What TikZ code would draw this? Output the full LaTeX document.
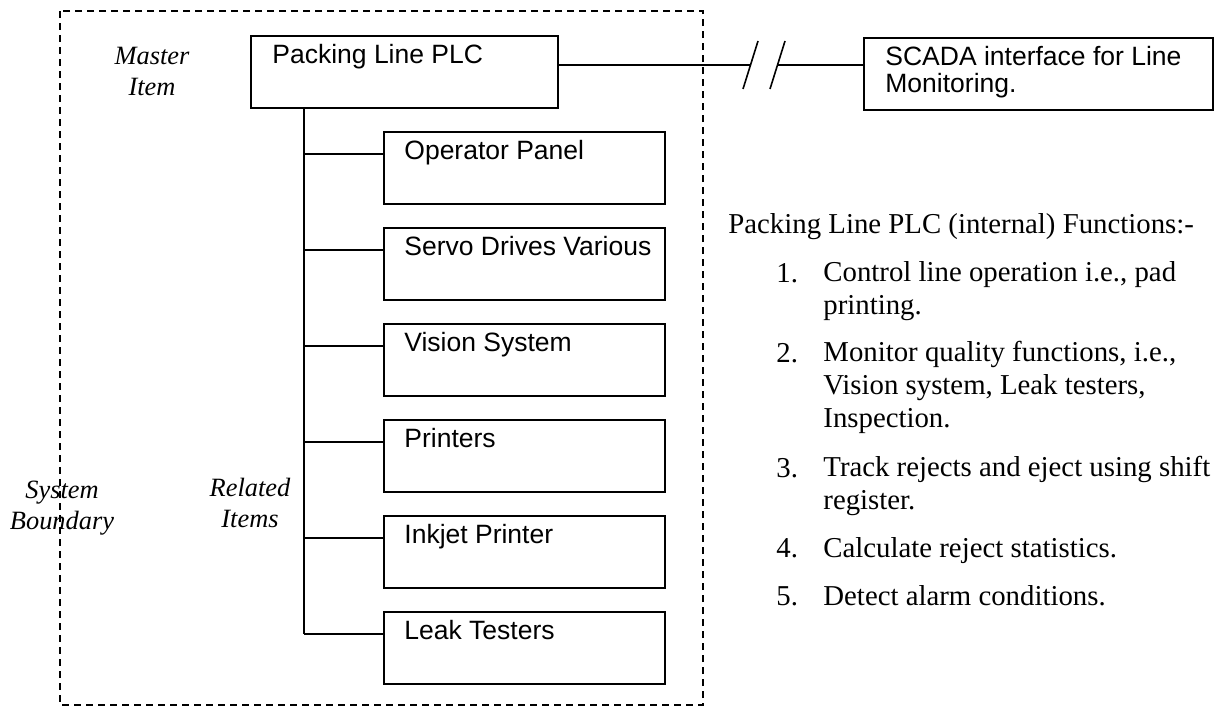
\documentclass[tikz,border=0pt]{standalone}
\usepackage{fontspec}
\setmainfont{Liberation Serif}
\newfontfamily\arialfont{Liberation Sans}
\begin{document}
\begin{tikzpicture}[x=0.5pt,y=-0.5pt,
  box/.style={draw, line width=1pt, anchor=north west, inner sep=0pt, minimum height=36pt},
  boxtext/.style={anchor=base west, inner sep=0pt, align=left,
    font=\arialfont\fontsize{13.25}{13.5}\selectfont},
  link/.style={line width=0.8pt},
  boundary/.style={line width=0.6pt, dash pattern=on 3.5pt off 2.5pt},
  tag/.style={anchor=base, align=center, inner sep=0pt,
    font=\fontsize{13.2}{15.2}\itshape\selectfont},
  body/.style={anchor=base west, align=left, inner sep=0pt,
    font=\fontsize{14.4}{16.3}\selectfont}]
\useasboundingbox (0,0) rectangle (1230,707);

% system boundary
\draw[boundary] (60,11) rectangle (703,705);

% master item
\node[box, minimum width=153.5pt] (plc) at (250,35) {};
\node[boxtext] (plctext) at ([shift={(22,28)}]plc.north west) {Packing Line PLC};

% SCADA link with break marks (base anchor sits on the last line)
\node[box, minimum width=174.5pt] (scada) at (863,37) {};
\node[boxtext] (scadatext) at ([shift={(22,55)}]scada.north west)
  {SCADA interface for Line\\Monitoring.};
\coordinate (brkA) at (750.5,65);
\coordinate (brkB) at (777.5,65);
\draw[link] (plc.east |- brkA) -- (brkA);
\draw[link] (brkB) -- (scada.west |- brkB);
\draw[link] (743,89) -- (758,41);
\draw[link] (770,89) -- (785,41);

% related items
\coordinate (tb) at (304,634);
\draw[link] (plc.south -| tb) -- (tb);
\foreach \t [count=\i] in {Operator Panel, Servo Drives Various, Vision System,
    Printers, Inkjet Printer, Leak Testers} {
  \node[box, minimum width=140.5pt] (c\i) at (383,{131+96*(\i-1)}) {};
  \node[boxtext] (c\i text) at ([shift={(21,28)}]c\i.north west) {\t};
  \coordinate (b\i) at ([yshift=-11.5pt]c\i.north west);
  \draw[link] (b\i) -- (b\i -| tb);
}

% side labels
\node[tag] (master) at (152,95) {Master\\Item};
\node[tag] (related) at (250,527) {Related\\Items};
\node[tag] (sysb) at (62,529) {System\\Boundary};

% PLC functions
\node[body] (fhead) at (728,233) {Packing Line PLC (internal) Functions:-};
\node[body] (n1) at (776,282) {1.};
\node[body] (f1) at (823,314) {Control line operation i.e., pad\\printing.};
\node[body] (n2) at (776,362) {2.};
\node[body] (f2) at (823,427) {Monitor quality functions, i.e.,\\Vision system, Leak testers,\\Inspection.};
\node[body] (n3) at (776,477) {3.};
\node[body] (f3) at (823,509) {Track rejects and eject using shift\\register.};
\node[body] (n4) at (776,557) {4.};
\node[body] (f4) at (823,557) {Calculate reject statistics.};
\node[body] (n5) at (776,605) {5.};
\node[body] (f5) at (823,605) {Detect alarm conditions.};
\end{tikzpicture}
\end{document}
